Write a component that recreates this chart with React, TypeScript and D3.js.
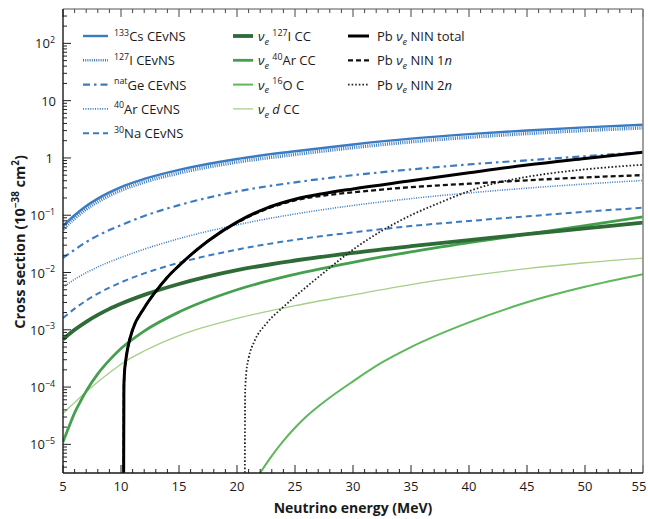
import React from 'react';
import * as d3 from 'd3';

const W = 648;
const H = 519;
const M = { left: 63, right: 643, top: 9, bottom: 473 };

// ---------- data ----------
const energy = [5, 6, 7, 8, 9, 10, 12, 15, 20, 25, 30, 35, 40, 45, 50, 55];
const csCEvNS = [0.065, 0.1, 0.145, 0.195, 0.25, 0.31, 0.43, 0.62, 0.96, 1.31, 1.72, 2.17, 2.6, 3.02, 3.42, 3.8];
const iCEvNS = [0.057, 0.088, 0.128, 0.172, 0.22, 0.273, 0.378, 0.546, 0.845, 1.15, 1.51, 1.91, 2.29, 2.66, 3.01, 3.34];
const geCEvNS = [0.018, 0.025, 0.034, 0.044, 0.055, 0.067, 0.097, 0.15, 0.26, 0.375, 0.5, 0.63, 0.77, 0.91, 1.07, 1.26];
const arCEvNS = [0.0055, 0.0076, 0.0099, 0.0125, 0.0153, 0.0183, 0.0255, 0.039, 0.068, 0.105, 0.148, 0.195, 0.245, 0.297, 0.35, 0.405];
const naCEvNS = [0.0016, 0.00234, 0.00324, 0.00427, 0.00543, 0.00673, 0.00966, 0.0148, 0.0251, 0.0372, 0.0501, 0.0646, 0.0794, 0.0955, 0.115, 0.135];
const iCC = [0.00068, 0.001, 0.00138, 0.00182, 0.00232, 0.00285, 0.00407, 0.0063, 0.011, 0.0162, 0.0221, 0.0288, 0.0367, 0.0468, 0.0589, 0.0741];
const dCC = [3.47e-5, 5.37e-5, 8.3e-5, 1.23e-4, 1.78e-4, 2.51e-4, 4.27e-4, 7.94e-4, 1.58e-3, 2.63e-3, 4.07e-3, 6.17e-3, 8.71e-3, 1.17e-2, 1.48e-2, 1.78e-2];

const arCCEnergy = [5, 5.5, 6, 6.5, 7, 8, 9, 10, 12, 15, 20, 25, 30, 35, 40, 45, 50, 55];
const arCC = [1.1e-5, 2.0e-5, 3.55e-5, 5.6e-5, 8.5e-5, 1.7e-4, 2.95e-4, 4.7e-4, 9.5e-4, 0.00204, 0.005, 0.0093, 0.0151, 0.0229, 0.0331, 0.0468, 0.0661, 0.0933];

const oEnergy = [21.5, 22, 23, 24, 25, 26, 27.5, 30, 32.5, 35, 40, 45, 50, 55];
const oCC = [2.1e-6, 3.16e-6, 6.3e-6, 1.15e-5, 1.95e-5, 3.09e-5, 5.5e-5, 1.26e-4, 2.69e-4, 5.0e-4, 1.35e-3, 3.02e-3, 5.62e-3, 9.33e-3];

const pbEnergy = [10.22, 10.25, 10.3, 10.4, 10.6, 11, 12, 13, 14, 15, 17.5, 20, 22.5, 25, 27.5, 30, 35, 40, 45, 50, 55];
const pbTotal = [1e-6, 1e-4, 1.78e-4, 2.82e-4, 5.0e-4, 1.0e-3, 2.4e-3, 4.68e-3, 8.3e-3, 0.0132, 0.0355, 0.0759, 0.132, 0.19, 0.24, 0.288, 0.398, 0.55, 0.75, 0.977, 1.26];
const pb1n = [1e-6, 1e-4, 1.78e-4, 2.82e-4, 5.0e-4, 1.0e-3, 2.4e-3, 4.68e-3, 8.3e-3, 0.0132, 0.0355, 0.0741, 0.127, 0.182, 0.221, 0.251, 0.309, 0.355, 0.407, 0.457, 0.501];

const pb2nEnergy = [20.67, 20.7, 20.8, 21, 21.5, 22.5, 24, 25, 27.5, 30, 32.5, 35, 37.5, 40, 42.5, 45, 50, 55];
const pb2n = [1e-6, 7.9e-5, 1.78e-4, 3.16e-4, 6.3e-4, 1.26e-3, 2.51e-3, 3.8e-3, 0.01, 0.0251, 0.0537, 0.1, 0.166, 0.263, 0.372, 0.468, 0.631, 0.759];

const xTicks = d3.range(5, 56, 1);
const xLabels = [5, 10, 15, 20, 25, 30, 35, 40, 45, 50, 55];
const yDecades = [-5, -4, -3, -2, -1, 0, 1, 2];

const yTitle = [
  { t: 'Cross section (10' },
  { t: '−38', sup: true },
  { t: ' cm' },
  { t: '2', sup: true },
  { t: ')' },
];
const xTitle = 'Neutrino energy (MeV)';

// ---------- styles ----------
const BLUE = '#3a7bc2';
const DKGREEN = '#2e6b37';
const MDGREEN = '#44a04e';
const OGREEN = '#5db75b';
const LTGREEN = '#a6cf88';
const FONT = "'Open Sans', 'DejaVu Sans', sans-serif";

type Seg = { t: string; sup?: boolean; sub?: boolean; it?: boolean };

const series = [
  { key: 'dcc', xs: energy, ys: dCC, color: LTGREEN, width: 1.3, dash: null,
    label: [{ t: 'ν', it: true }, { t: 'e', sub: true, it: true }, { t: ' ' }, { t: 'd', it: true }, { t: ' CC' }] as Seg[], col: 1, row: 3 },
  { key: 'occ', xs: oEnergy, ys: oCC, color: OGREEN, width: 2, dash: null,
    label: [{ t: 'ν', it: true }, { t: 'e', sub: true, it: true }, { t: ' ' }, { t: '16', sup: true }, { t: 'O C' }] as Seg[], col: 1, row: 2 },
  { key: 'arcc', xs: arCCEnergy, ys: arCC, color: MDGREEN, width: 2.8, dash: null,
    label: [{ t: 'ν', it: true }, { t: 'e', sub: true, it: true }, { t: ' ' }, { t: '40', sup: true }, { t: 'Ar CC' }] as Seg[], col: 1, row: 1 },
  { key: 'icc', xs: energy, ys: iCC, color: DKGREEN, width: 3.8, dash: null,
    label: [{ t: 'ν', it: true }, { t: 'e', sub: true, it: true }, { t: ' ' }, { t: '127', sup: true }, { t: 'I CC' }] as Seg[], col: 1, row: 0 },
  { key: 'na', xs: energy, ys: naCEvNS, color: BLUE, width: 2, dash: '6 4',
    label: [{ t: '30', sup: true }, { t: 'Na CEvNS' }] as Seg[], col: 0, row: 4 },
  { key: 'ar', xs: energy, ys: arCEvNS, color: BLUE, width: 1.6, dash: '1 1.4',
    label: [{ t: '40', sup: true }, { t: 'Ar CEvNS' }] as Seg[], col: 0, row: 3 },
  { key: 'ge', xs: energy, ys: geCEvNS, color: BLUE, width: 2.2, dash: '7 4 2.5 4',
    label: [{ t: 'nat', sup: true }, { t: 'Ge CEvNS' }] as Seg[], col: 0, row: 2 },
  { key: 'i', xs: energy, ys: iCEvNS, color: BLUE, width: 3.4, dash: '1 1.2',
    label: [{ t: '127', sup: true }, { t: 'I CEvNS' }] as Seg[], col: 0, row: 1 },
  { key: 'cs', xs: energy, ys: csCEvNS, color: BLUE, width: 2.4, dash: null,
    label: [{ t: '133', sup: true }, { t: 'Cs CEvNS' }] as Seg[], col: 0, row: 0 },
  { key: 'pb2n', xs: pb2nEnergy, ys: pb2n, color: '#222', width: 1.8, dash: '1.6 2',
    label: [{ t: 'Pb ' }, { t: 'ν', it: true }, { t: 'e', sub: true, it: true }, { t: ' NIN 2' }, { t: 'n', it: true }] as Seg[], col: 2, row: 2 },
  { key: 'pb1n', xs: pbEnergy, ys: pb1n, color: '#111', width: 2.3, dash: '5 3',
    label: [{ t: 'Pb ' }, { t: 'ν', it: true }, { t: 'e', sub: true, it: true }, { t: ' NIN 1' }, { t: 'n', it: true }] as Seg[], col: 2, row: 1 },
  { key: 'pbtot', xs: pbEnergy, ys: pbTotal, color: '#000', width: 3, dash: null,
    label: [{ t: 'Pb ' }, { t: 'ν', it: true }, { t: 'e', sub: true, it: true }, { t: ' NIN total' }] as Seg[], col: 2, row: 0 },
];

const legendCols = [
  { x0: 83, x1: 108, tx: 114 },
  { x0: 233, x1: 253, tx: 258 },
  { x0: 348, x1: 369, tx: 377 },
];
const legendRow0 = 36;
const legendRowStep = 24.3;

function Rich({ segs, x, y, size, anchor, weight }: { segs: Seg[]; x: number; y: number; size: number; anchor?: string; weight?: string | number }) {
  let cur = 0;
  const nodes = segs.map((s, i) => {
    let target = 0;
    let fs = size;
    if (s.sup) { target = -0.42 * size; fs = size * 0.68; }
    if (s.sub) { target = 0.28 * size; fs = size * 0.7; }
    const dy = target - cur;
    cur = target;
    return (
      <tspan key={i} dy={dy} fontSize={fs} fontStyle={s.it ? 'italic' : 'normal'}>
        {s.t}
      </tspan>
    );
  });
  return (
    <text x={x} y={y} fontSize={size} fontFamily={FONT} fill="#1a1a1a" textAnchor={anchor || 'start'} fontWeight={weight || 'normal'}>
      {nodes}
    </text>
  );
}

export default function App() {
  const x = d3.scaleLinear().domain([5, 55]).range([M.left, M.right]);
  const y = d3.scaleLog().domain([Math.pow(10, -5.5), Math.pow(10, 2.6)]).range([M.bottom, M.top]);
  const line = d3
    .line<[number, number]>()
    .x((d) => x(d[0]))
    .y((d) => y(d[1]))
    .curve(d3.curveMonotoneX);

  const yMinor: number[] = [];
  for (let k = -6; k <= 2; k++) {
    for (let m = 2; m <= 9; m++) {
      const v = m * Math.pow(10, k);
      if (v >= Math.pow(10, -5.5) && v <= Math.pow(10, 2.6)) yMinor.push(v);
    }
  }

  const yLabel = (k: number): Seg[] => {
    if (k === 0) return [{ t: '1' }];
    if (k === 1) return [{ t: '10' }];
    return [{ t: '10' }, { t: k < 0 ? '−' + Math.abs(k) : String(k), sup: true }];
  };

  return (
    <svg width={W} height={H} style={{ position: 'absolute', left: 0, top: 0, background: '#fff' }}>
      <defs>
        <clipPath id="plot">
          <rect x={M.left} y={M.top} width={M.right - M.left} height={M.bottom - M.top} />
        </clipPath>
      </defs>
      <rect x={0} y={0} width={W} height={H} fill="#fff" />

      {/* curves */}
      <g clipPath="url(#plot)">
        {series.map((s) => (
          <path
            key={s.key}
            d={line(s.xs.map((e, i) => [e, s.ys[i]] as [number, number])) || ''}
            fill="none"
            stroke={s.color}
            strokeWidth={s.width}
            strokeDasharray={s.dash || undefined}
          />
        ))}
      </g>

      {/* ticks */}
      <g stroke="#222" strokeWidth={1}>
        {xTicks.map((v) => {
          const major = v % 5 === 0;
          const len = major ? 8 : 4;
          return (
            <g key={'xt' + v}>
              <line x1={x(v)} x2={x(v)} y1={M.bottom} y2={M.bottom - len} />
              <line x1={x(v)} x2={x(v)} y1={M.top} y2={M.top + len} stroke="#444" />
            </g>
          );
        })}
        {yDecades.map((k) => (
          <line key={'yt' + k} x1={M.left} x2={M.left + 8} y1={y(Math.pow(10, k))} y2={y(Math.pow(10, k))} />
        ))}
        {yMinor.map((v, i) => (
          <line key={'ym' + i} x1={M.left} x2={M.left + 4} y1={y(v)} y2={y(v)} />
        ))}
      </g>

      {/* frame */}
      <line x1={M.left} x2={M.right} y1={M.top} y2={M.top} stroke="#555" strokeWidth={1.2} />
      <line x1={M.right} x2={M.right} y1={M.top} y2={M.bottom} stroke="#888" strokeWidth={1.6} />
      <line x1={M.left} x2={M.left} y1={M.top} y2={M.bottom} stroke="#1a1a1a" strokeWidth={1.4} />
      <line x1={M.left} x2={M.right} y1={M.bottom} y2={M.bottom} stroke="#1a1a1a" strokeWidth={1.4} />

      {/* tick labels */}
      {xLabels.map((v) => (
        <text key={'xl' + v} x={Math.min(x(v), 639)} y={M.bottom + 18} textAnchor="middle" fontSize={13} fontFamily={FONT} fill="#1a1a1a">
          {v}
        </text>
      ))}
      {yDecades.map((k) => (
        <Rich key={'yl' + k} segs={yLabel(k)} x={k === 0 ? 53 : k === 1 ? 56 : 55} y={y(Math.pow(10, k)) + 5} size={13} anchor="end" />
      ))}

      {/* axis titles */}
      <text x={(M.left + M.right) / 2} y={513} textAnchor="middle" fontSize={14} fontWeight="bold" fontFamily={FONT} fill="#1a1a1a">
        {xTitle}
      </text>
      <g transform={`translate(25, 242) rotate(-90)`}>
        <Rich segs={yTitle} x={0} y={0} size={14.5} anchor="middle" weight="bold" />
      </g>

      {/* legend */}
      {series.map((s) => {
        const c = legendCols[s.col];
        const yy = legendRow0 + s.row * legendRowStep;
        return (
          <g key={'lg' + s.key}>
            <line x1={c.x0} x2={c.x1} y1={yy} y2={yy} stroke={s.color} strokeWidth={s.key === 'i' ? 2.6 : s.width} strokeDasharray={s.dash || undefined} />
            <Rich segs={s.label} x={c.tx} y={yy + 5} size={13} />
          </g>
        );
      })}
    </svg>
  );
}
